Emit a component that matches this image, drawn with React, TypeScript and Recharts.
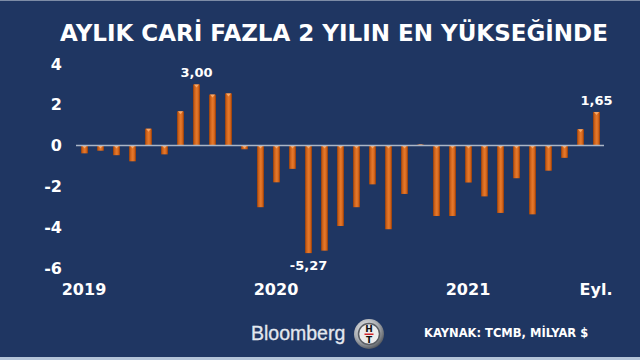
import React from 'react';
import { BarChart, Bar, XAxis, YAxis, ReferenceLine, LabelList } from 'recharts';

const BG = '#1f3662';
const ZERO_LINE = '#aab6c8';
const FONT = '"DejaVu Sans", Verdana, sans-serif';

const MONTHS = [
  'Oca 19', 'Şub 19', 'Mar 19', 'Nis 19', 'May 19', 'Haz 19',
  'Tem 19', 'Ağu 19', 'Eyl 19', 'Eki 19', 'Kas 19', 'Ara 19',
  'Oca 20', 'Şub 20', 'Mar 20', 'Nis 20', 'May 20', 'Haz 20',
  'Tem 20', 'Ağu 20', 'Eyl 20', 'Eki 20', 'Kas 20', 'Ara 20',
  'Oca 21', 'Şub 21', 'Mar 21', 'Nis 21', 'May 21', 'Haz 21',
  'Tem 21', 'Ağu 21', 'Eyl 21',
];

// milyar $
const BALANCE = [
  -0.38, -0.25, -0.47, -0.77, 0.83, -0.43,
  1.68, 3.0, 2.5, 2.56, -0.18, -3.02,
  -1.8, -1.14, -5.27, -5.15, -3.94, -3.02,
  -1.9, -4.1, -2.37, 0.05, -3.45, -3.45,
  -1.81, -2.49, -3.3, -1.6, -3.37, -1.23,
  -0.6, 0.8, 1.65,
];

const LABELED_MONTHS = ['Ağu 19', 'Mar 20', 'Eyl 21'];
const X_TICKS = ['Oca 19', 'Oca 20', 'Oca 21', 'Eyl 21'];
const X_TICK_LABELS = ['2019', '2020', '2021', 'Eyl.'];
const Y_TICKS = [-6, -4, -2, 0, 2, 4];

const data = MONTHS.map((month, i) => ({
  month,
  value: BALANCE[i],
  label: LABELED_MONTHS.includes(month) ? BALANCE[i].toFixed(2).replace('.', ',') : '',
}));

const BarShape = (props: any) => {
  const { x, y, width, height } = props;
  const top = Math.min(y, y + height);
  const h = Math.max(Math.abs(height), 1);
  const cap = Math.min(3, h);
  return (
    <g>
      <rect x={x} y={top} width={width} height={h} fill="url(#barGrad)" />
      <polygon
        points={`${x + 1},${top} ${x + width - 1},${top} ${x + width / 2},${top + cap}`}
        fill="#f7a868"
      />
    </g>
  );
};

const renderLabel = (props: any) => {
  const { x, y, width, height, value } = props;
  if (!value) return null;
  const top = Math.min(y, y + height);
  const bottom = Math.max(y, y + height);
  const neg = String(value).startsWith('-');
  return (
    <text
      x={x + width / 2}
      y={neg ? bottom + 17 : top - 7}
      textAnchor="middle"
      fill="#ffffff"
      fontSize={13}
      fontWeight="bold"
      fontFamily={FONT}
    >
      {value}
    </text>
  );
};

export default function App() {
  return (
    <div
      style={{
        position: 'absolute',
        left: 0,
        top: 0,
        width: 640,
        height: 360,
        background: BG,
        overflow: 'hidden',
      }}
    >
      <BarChart
        width={640}
        height={360}
        data={data}
        margin={{ top: 64, right: 36, left: 0, bottom: 62 }}
        barCategoryGap={0}
      >
        <defs>
          <linearGradient id="barGrad" x1="0" y1="0" x2="1" y2="0">
            <stop offset="0%" stopColor="#8f3e0e" />
            <stop offset="25%" stopColor="#d2651c" />
            <stop offset="55%" stopColor="#e67a2c" />
            <stop offset="80%" stopColor="#cc5f18" />
            <stop offset="100%" stopColor="#8a3a0c" />
          </linearGradient>
        </defs>
        <XAxis
          dataKey="month"
          ticks={X_TICKS}
          interval={0}
          tickFormatter={(m: string) => X_TICK_LABELS[X_TICKS.indexOf(m)] ?? ''}
          axisLine={false}
          tickLine={false}
          tickMargin={10}
          height={30}
          tick={{ fill: '#ffffff', fontSize: 16, fontWeight: 'bold', fontFamily: FONT }}
        />
        <YAxis
          domain={[-6, 4]}
          ticks={Y_TICKS}
          width={76}
          axisLine={false}
          tickLine={false}
          tickMargin={8}
          tick={{ fill: '#ffffff', fontSize: 16, fontWeight: 'bold', fontFamily: FONT }}
        />
        <ReferenceLine y={0} stroke={ZERO_LINE} strokeWidth={1.5} />
        <Bar dataKey="value" barSize={7} shape={BarShape} isAnimationActive={false}>
          <LabelList dataKey="label" content={renderLabel} />
        </Bar>
      </BarChart>

      <svg
        width={640}
        height={360}
        style={{ position: 'absolute', left: 0, top: 0, pointerEvents: 'none' }}
      >
        <rect x={0} y={0} width={640} height={1} fill="#7d8ca6" />
        <rect x={0} y={357} width={640} height={3} fill="#b4c4d8" />
        <text
          x={334}
          y={41}
          textAnchor="middle"
          fill="#ffffff"
          fontSize={23}
          fontWeight="bold"
          fontFamily={FONT}
        >
          AYLIK CARİ FAZLA 2 YILIN EN YÜKSEĞİNDE
        </text>
        <text
          x={251}
          y={340}
          fill="#e3e8ef"
          fontSize={19.5}
          fontFamily='"Liberation Sans", Arial, sans-serif'
          stroke="#e3e8ef"
          strokeWidth={0.3}
        >
          Bloomberg
        </text>
        <defs>
          <radialGradient id="htRing" cx="40%" cy="35%" r="70%">
            <stop offset="0%" stopColor="#f2f2f2" />
            <stop offset="60%" stopColor="#a9adb2" />
            <stop offset="100%" stopColor="#4a4e54" />
          </radialGradient>
        </defs>
        <circle cx={369} cy={334} r={15} fill="url(#htRing)" />
        <circle cx={369} cy={334} r={10.5} fill="#ececec" stroke="#5a5e64" strokeWidth={1.5} />
        <text x={369} y={332} textAnchor="middle" fill="#111" fontSize={9} fontWeight="bold" fontFamily={FONT}>
          H
        </text>
        <rect x={364.5} y={333.5} width={9} height={1.5} fill="#d2232a" />
        <text x={369} y={343} textAnchor="middle" fill="#111" fontSize={9} fontWeight="bold" fontFamily={FONT}>
          T
        </text>
        <text
          x={424}
          y={337}
          fill="#ffffff"
          fontSize={11.5}
          fontWeight="bold"
          fontFamily={FONT}
        >
          KAYNAK: TCMB, MİLYAR $
        </text>
      </svg>
    </div>
  );
}
